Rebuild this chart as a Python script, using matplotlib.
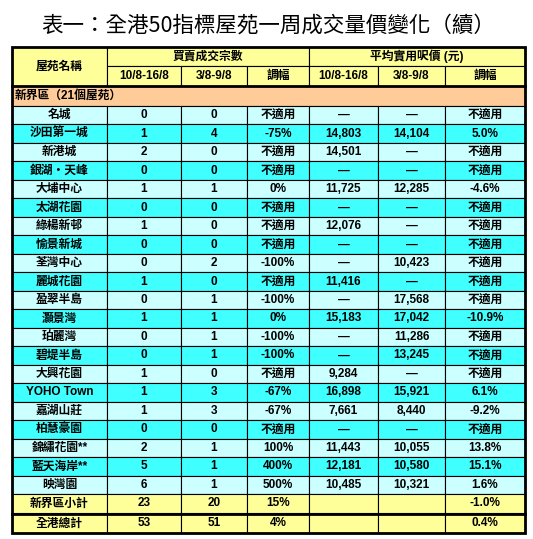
import matplotlib
matplotlib.use("Agg")
import matplotlib.pyplot as plt
from matplotlib.patches import Rectangle

plt.rcParams['font.family'] = ['Liberation Sans', 'Noto Sans CJK TC', 'DejaVu Sans']

title = "表一：全港50指標屋苑一周成交量價變化（續）"
estates = ["名城","沙田第一城","新港城","銀湖‧天峰","大埔中心","太湖花園","綠楊新邨","愉景新城","荃灣中心","麗城花園",
           "盈翠半島","灝景灣","珀麗灣","碧堤半島","大興花園","YOHO Town","嘉湖山莊","柏慧豪園","錦繡花園**","藍天海岸**","映灣園"]
deals_now = ["0","1","2","0","1","0","1","0","0","1","0","1","0","0","1","1","1","0","2","5","6"]
deals_prev = ["0","4","0","0","1","0","0","0","2","0","1","1","1","1","0","3","3","0","1","1","1"]
deals_chg = ["不適用","-75%","不適用","不適用","0%","不適用","不適用","不適用","-100%","不適用","-100%","0%","-100%","-100%",
             "不適用","-67%","-67%","不適用","100%","400%","500%"]
D = "—"
price_now = [D,"14,803","14,501",D,"11,725",D,"12,076",D,D,"11,416",D,"15,183",D,D,"9,284","16,898","7,661",D,"11,443","12,181","10,485"]
price_prev = [D,"14,104",D,D,"12,285",D,D,D,"10,423",D,"17,568","17,042","11,286","13,245",D,"15,921","8,440",D,"10,055","10,580","10,321"]
price_chg = ["不適用","5.0%","不適用","不適用","-4.6%","不適用","不適用","不適用","不適用","不適用","不適用","-10.9%","不適用","不適用",
             "不適用","6.1%","-9.2%","不適用","13.8%","15.1%","1.6%"]
subtotal = ["新界區小計","23","20","15%","","","-1.0%"]
total = ["全港總計","53","51","4%","","","0.4%"]

fig = plt.figure(figsize=(5.33,5.39), dpi=100)
ax = fig.add_axes([0,0,1,1])
ax.set_xlim(0,533); ax.set_ylim(539,0); ax.axis('off')

xs = [12,107,181,247,309,378,445,525]
fs = 8.5
def cell(x0,x1,y0,y1,color,text="",ha='center',lw=0.8):
    ax.add_patch(Rectangle((x0,y0),x1-x0,y1-y0,facecolor=color,edgecolor='black',lw=lw))
    if text:
        tx = (x0+x1)/2 if ha=='center' else x0+3
        ax.text(tx,(y0+y1)/2,text,ha=ha,va='center',fontsize=fs,fontweight='bold')

ax.text(268,26,title,ha='center',va='center',fontsize=15.5,family=['Noto Sans CJK TC','DejaVu Sans'])
Y = '#FFFF99'
cell(xs[0],xs[1],47,86,Y,"屋苑名稱")
cell(xs[1],xs[4],47,66,Y,"買賣成交宗數")
cell(xs[4],xs[7],47,66,Y,"平均實用呎價 (元)")
for i,t in enumerate(["10/8-16/8","3/8-9/8","調幅","10/8-16/8","3/8-9/8","調幅"]):
    cell(xs[i+1],xs[i+2],66,86,Y,t)
cell(xs[0],xs[7],86,106,'#FFCC99',"新界區（21個屋苑）",ha='left')
rh = (494-106)/21
for r in range(21):
    y0 = 106+r*rh; y1 = y0+rh
    col = '#CCFFFF' if r%2==0 else '#40FFFF'
    vals = [estates[r],deals_now[r],deals_prev[r],deals_chg[r],price_now[r],price_prev[r],price_chg[r]]
    for c in range(7):
        cell(xs[c],xs[c+1],y0,y1,col,vals[c])
for row,(y0,y1) in [(subtotal,(494,513)),(total,(514,533))]:
    for c in range(7):
        cell(xs[c],xs[c+1],y0,y1,Y,row[c])
ax.add_patch(Rectangle((xs[0],47),xs[7]-xs[0],533-47,fill=False,edgecolor='black',lw=2))
ax.plot([xs[0],xs[7]],[86,86],color='black',lw=2)
ax.plot([xs[0],xs[7]],[513.5,513.5],color='black',lw=2)
fig.savefig("out.png",dpi=100)
